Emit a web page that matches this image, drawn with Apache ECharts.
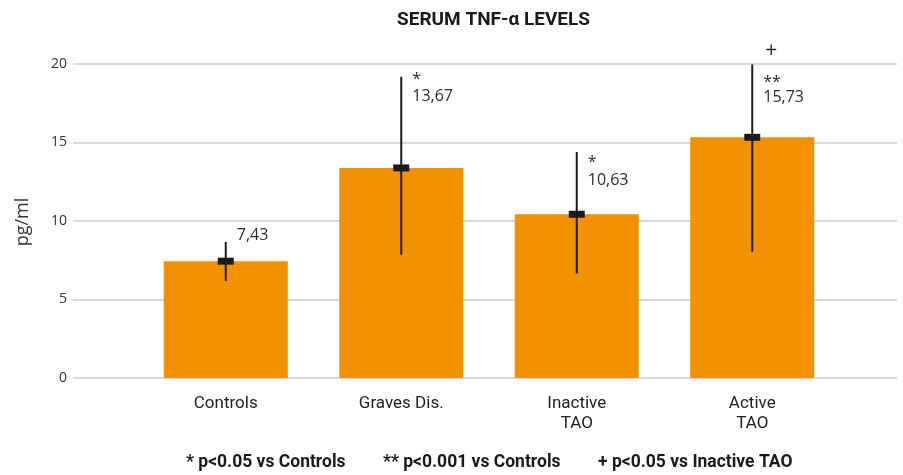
<!DOCTYPE html>
<html>
<head>
<meta charset="utf-8">
<style>html,body{margin:0;padding:0;background:#fff;}#main{width:903px;height:475px;}</style>
<script src="https://cdn.jsdelivr.net/npm/echarts@6/dist/echarts.min.js"></script>
</head>
<body>
<div id="main"></div>
<script>
// ---- data ----
const categories = ['Controls', 'Graves Dis.', 'Inactive\nTAO', 'Active\nTAO'];
const means = [7.44, 13.38, 10.43, 15.33];
const errLow = [6.19, 7.85, 6.66, 8.04];
const errHigh = [8.67, 19.19, 14.40, 19.97];
const valueLabels = ['7,43', '13,67', '10,63', '15,73'];
const sigMarks = ['', '*', '*', '**'];
const topMarks = ['', '', '', '+'];
const yMin = 0, yMax = 20, yInterval = 5;
const footnotes = ['* p<0.05 vs Controls', '** p<0.001 vs Controls', '+ p<0.05 vs Inactive TAO'];

// ---- style (label offsets from the error-bar top, px) ----
const valueDy = [-6, 20, 29, 33];
const sigDy = [0, -1, 7, 14];
const topDy = [0, 0, 0, -13];

const chart = echarts.init(document.getElementById('main'));
const labelFont = '16px "Open Sans"';
const errData = categories.map((c, i) => [i, errLow[i], errHigh[i], means[i]]);

chart.setOption({
  animation: false,
  title: {
    text: 'SERUM TNF-α LEVELS', left: 392, top: 6,
    textStyle: { fontFamily: 'Roboto', fontWeight: 'bold', fontSize: 19, color: '#1a1a1a' }
  },
  grid: [
    { left: 73, right: 6, top: 64, bottom: 97 },
    { left: 138, right: 63, top: 64, bottom: 97 }
  ],
  xAxis: [
    { gridIndex: 0, type: 'category', data: categories, show: false },
    { gridIndex: 1, type: 'category', data: categories,
      axisLine: { show: false }, axisTick: { show: false },
      axisLabel: { margin: 16, fontFamily: 'Roboto', fontSize: 17, color: '#222', lineHeight: 20 } }
  ],
  yAxis: [
    { gridIndex: 0, type: 'value', min: yMin, max: yMax, interval: yInterval,
      axisLine: { show: false }, axisTick: { show: false },
      splitLine: { lineStyle: { color: '#d9d9d9', width: 2 } },
      axisLabel: { margin: 6, fontFamily: 'Open Sans', fontSize: 14, color: '#333' } },
    { gridIndex: 1, type: 'value', min: yMin, max: yMax, interval: yInterval, show: false,
      splitLine: { show: false } }
  ],
  series: [
    { type: 'bar', xAxisIndex: 1, yAxisIndex: 1, data: means, barWidth: 124,
      itemStyle: { color: '#F39200' } },
    { type: 'custom', xAxisIndex: 1, yAxisIndex: 1, data: errData, z: 10,
      renderItem: function (params, api) {
        const i = api.value(0);
        const hi = api.coord([i, api.value(2)]);
        const lo = api.coord([i, api.value(1)]);
        const mn = api.coord([i, api.value(3)]);
        const x = hi[0];
        const tx = x + 11;
        const children = [
          { type: 'line', shape: { x1: x, y1: hi[1], x2: x, y2: lo[1] },
            style: { stroke: '#1e1e1e', lineWidth: 2 } },
          { type: 'rect', shape: { x: x - 8, y: mn[1] - 3.5, width: 16, height: 7 },
            style: { fill: '#1a1a1a' } },
          { type: 'text', style: { text: valueLabels[i], x: tx, y: hi[1] + valueDy[i],
            font: labelFont, fill: '#2b2b2b', textVerticalAlign: 'middle' } }
        ];
        if (sigMarks[i]) children.push({ type: 'text', style: { text: sigMarks[i], x: tx, y: hi[1] + sigDy[i] + 4,
            font: labelFont, fill: '#2b2b2b', textVerticalAlign: 'middle' } });
        if (topMarks[i]) children.push({ type: 'text', style: { text: topMarks[i], x: tx + 2, y: hi[1] + topDy[i],
            font: '21px "Open Sans"', fill: '#2b2b2b', textVerticalAlign: 'middle' } });
        return { type: 'group', children: children };
      }
    }
  ],
  graphic: [
    { type: 'text', x: 23, y: 222, rotation: Math.PI / 2,
      style: { text: 'pg/ml', font: '18px "Open Sans"', fill: '#333', textAlign: 'center', textVerticalAlign: 'middle' } },
    { type: 'text', x: 186, y: 463, style: { text: footnotes[0], font: 'bold 17.5px Roboto', fill: '#1a1a1a', textVerticalAlign: 'middle' } },
    { type: 'text', x: 383, y: 463, style: { text: footnotes[1], font: 'bold 17.5px Roboto', fill: '#1a1a1a', textVerticalAlign: 'middle' } },
    { type: 'text', x: 598, y: 463, style: { text: footnotes[2], font: 'bold 17.5px Roboto', fill: '#1a1a1a', textVerticalAlign: 'middle' } }
  ]
});
</script>
</body>
</html>
